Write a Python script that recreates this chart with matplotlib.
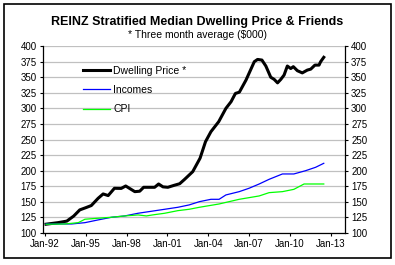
import matplotlib
matplotlib.use("Agg")
import matplotlib.pyplot as plt
from matplotlib.patches import Rectangle

plt.rcParams['font.family'] = ['Liberation Sans', 'DejaVu Sans']

# Dwelling price, three month average ($000)
dwelling_year = [1992.07, 1992.95, 1993.6, 1994.1, 1994.55, 1995.0, 1995.4, 1995.9,
                 1996.27, 1996.64, 1997.1, 1997.6, 1997.93, 1998.2, 1998.6, 1998.96,
                 1999.25, 1999.7, 2000.06, 2000.35, 2000.67, 2001.03, 2001.5, 2001.9,
                 2002.26, 2002.86, 2003.4, 2003.8, 2004.2, 2004.77, 2005.3, 2005.68,
                 2006.0, 2006.29, 2006.78, 2007.39, 2007.63, 2007.95, 2008.24, 2008.6,
                 2008.85, 2009.1, 2009.34, 2009.58, 2009.82, 2010.07, 2010.26, 2010.56,
                 2010.92, 2011.29, 2011.54, 2011.85, 2012.15, 2012.27, 2012.5]
dwelling = [114, 116.5, 119, 127, 137, 140.6, 144, 155.6,
            162.6, 160, 171.7, 171.5, 175.4, 171.7, 166.3, 167,
            173.3, 173.3, 173.3, 178.6, 174, 173.3, 176.5, 179,
            186, 198.4, 220, 246.5, 262.6, 278.6, 300, 310.7,
            324, 326, 345.5, 375, 378.6, 377.6, 368, 350,
            346.6, 341, 346.6, 353.5, 368, 364, 367, 360.5,
            357, 361.5, 363, 369.5, 369.5, 375, 382]

income_year = [1992.07, 1993.96, 1994.93, 1995.9, 1996.9, 1997.86, 1998.84, 1999.82,
               2000.8, 2001.77, 2002.6, 2003.35, 2004.2, 2004.8, 2005.3, 2006.28,
               2007.0, 2007.75, 2008.48, 2009.46, 2010.3, 2011.17, 2011.9, 2012.5]
incomes = [114.4, 114.4, 116.5, 120.9, 125.2, 127.3, 131.6, 134.8,
           138, 141.2, 145, 150.2, 154, 154, 161, 166.3,
           171.7, 178.6, 186.1, 194.7, 194.7, 200, 205.4, 211.8]

cpi_year = [1992.07, 1993.47, 1994.44, 1994.93, 1995.9, 1996.9, 1997.86, 1998.84,
            1999.45, 1999.93, 2000.8, 2001.77, 2002.6, 2003.35, 2004.8, 2006.28,
            2007.75, 2008.48, 2009.46, 2010.3, 2011.05, 2011.66, 2012.5]
cpi = [114, 114.4, 116.5, 122, 123.6, 125.2, 127.3, 128.9,
       127.3, 129, 131.6, 135.8, 138, 141.2, 146.5, 154,
       159.4, 164.7, 166.3, 170, 178.6, 178.6, 178.6]

tick_years = [1992, 1995, 1998, 2001, 2004, 2007, 2010, 2013]
tick_labels = ["Jan-92", "Jan-95", "Jan-98", "Jan-01", "Jan-04", "Jan-07", "Jan-10", "Jan-13"]
y_ticks = list(range(100, 401, 25))

fig = plt.figure(figsize=(3.95, 2.65), dpi=100)
ax = fig.add_axes([0.109, 0.121, 0.764, 0.705])

ax.plot(dwelling_year, dwelling, color="black", lw=2.2, label="Dwelling Price *")
ax.plot(income_year, incomes, color="#0000FF", lw=0.9, label="Incomes")
ax.plot(cpi_year, cpi, color="#00FF00", lw=0.9, label="CPI")

ax.set_xlim(1991.85, 2014.05)
ax.set_ylim(100, 400)
ax.set_xticks(tick_years)
ax.set_xticklabels(tick_labels)
ax.set_yticks(y_ticks)
ax.yaxis.grid(True, color="#c0c0c0", lw=0.9)
ax.set_axisbelow(True)
ax.spines["top"].set_visible(False)
for s in ["left", "right", "bottom"]:
    ax.spines[s].set_linewidth(0.9)
ax.tick_params(axis="both", labelsize=7, length=2.5, width=0.8, pad=2)
ax.tick_params(axis="y", left=True, right=True, labelleft=True, labelright=True)

ax.legend(loc="upper left", bbox_to_anchor=(0.132, 0.895), frameon=False,
          fontsize=7.5, handlelength=2.6, handletextpad=0.3, labelspacing=0.9,
          borderpad=0, borderaxespad=0)

fig.text(0.5, 0.917, "REINZ Stratified Median Dwelling Price & Friends",
         ha="center", va="center", fontsize=9, weight="bold")
fig.text(0.5, 0.868, "* Three month average ($000)", ha="center", va="center", fontsize=7.5)

fig.patches.append(Rectangle((0.010, 0.026), 0.980, 0.959, transform=fig.transFigure,
                             fill=False, edgecolor="black", lw=1.2))

plt.savefig("out.png", dpi=100)
